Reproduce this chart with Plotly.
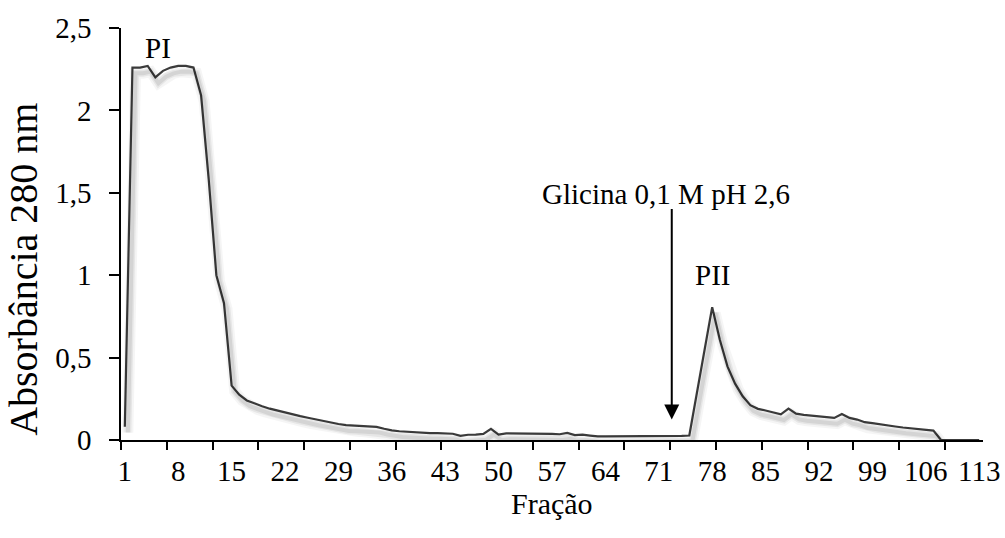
import plotly.graph_objects as go

# ---- data ----
fractions = list(range(1, 114))
absorbance = [
    0.08, 2.26, 2.26, 2.27, 2.20, 2.24, 2.26, 2.27, 2.27, 2.26,   # 1-10
    2.09, 1.58, 1.00, 0.83, 0.33, 0.275, 0.24, 0.22, 0.205, 0.19,  # 11-20
    0.178, 0.168, 0.155, 0.145, 0.135, 0.125, 0.115, 0.108, 0.097, 0.09,  # 21-30
    0.088, 0.085, 0.083, 0.08, 0.068, 0.058, 0.053, 0.05, 0.046, 0.043,  # 31-40
    0.042, 0.042, 0.04, 0.038, 0.025, 0.032, 0.033, 0.037, 0.068, 0.033,  # 41-50
    0.04, 0.04, 0.039, 0.039, 0.038, 0.038, 0.037, 0.035, 0.043, 0.03,  # 51-60
    0.033, 0.027, 0.022, 0.022, 0.022, 0.022, 0.022, 0.022, 0.023, 0.023,  # 61-70
    0.023, 0.024, 0.024, 0.025, 0.027, 0.29, 0.56, 0.806, 0.608, 0.447,  # 71-80
    0.342, 0.265, 0.211, 0.189, 0.179, 0.168, 0.156, 0.19, 0.16, 0.152,  # 81-90
    0.148, 0.144, 0.138, 0.134, 0.158, 0.134, 0.124, 0.108, 0.102, 0.094,  # 91-100
    0.088, 0.082, 0.076, 0.072, 0.066, 0.062, 0.057, 0.0, 0.0, 0.0,  # 101-110
    0.0, 0.0, 0.0,  # 111-113
]
x_label_vals = list(range(1, 114, 7))
x_label_text = [str(v) for v in x_label_vals]
x_tick_marks = [0.5 + 6 * k for k in range(19)]
y_tick_vals = [0, 0.5, 1, 1.5, 2, 2.5]
y_tick_text = ["0", "0,5", "1", "1,5", "2", "2,5"]

FONT = "Liberation Serif"
FS = 29

fig = go.Figure()

# soft drop shadow (same data, drawn on slightly shifted hidden axes)
for w, a in [(11, 0.04), (7, 0.06), (4, 0.08)]:
    fig.add_trace(go.Scatter(
        x=fractions, y=absorbance, mode="lines", xaxis="x3", yaxis="y2",
        line=dict(color=f"rgba(0,0,0,{a})", width=w), hoverinfo="skip",
        showlegend=False, cliponaxis=False))

fig.add_trace(go.Scatter(
    x=fractions, y=absorbance, mode="lines",
    line=dict(color="#3c3c3c", width=2.2), showlegend=False, cliponaxis=False))

# invisible trace so the tick-mark axis is drawn
fig.add_trace(go.Scatter(x=[fractions[0]], y=[0], xaxis="x2", mode="markers",
                         marker=dict(opacity=0), showlegend=False, hoverinfo="skip"))

xr = [0.5, 113.5]
fig.update_layout(
    width=1005, height=538,
    margin=dict(l=121, r=22, t=27.5, b=97.5, autoexpand=False),
    paper_bgcolor="white", plot_bgcolor="white",
    font=dict(family=FONT, size=FS, color="black"),
    xaxis=dict(range=xr, tickvals=x_label_vals, ticktext=x_label_text,
               ticks="", showline=True, linecolor="black", linewidth=1.5,
               showgrid=False, zeroline=False, tickfont=dict(size=FS),
               ticklabelstandoff=4, automargin=False),
    xaxis2=dict(range=xr, overlaying="x", tickvals=x_tick_marks,
                ticks="outside", ticklen=9, tickwidth=1.5, tickcolor="black",
                showticklabels=False, showline=False, showgrid=False,
                zeroline=False, side="bottom", automargin=False),
    xaxis3=dict(range=[xr[0] - 0.4, xr[1] - 0.4], overlaying="x",
                visible=False, automargin=False),
    yaxis=dict(range=[0, 2.5], tickvals=y_tick_vals, ticktext=y_tick_text,
               ticks="outside", ticklen=10, tickwidth=1.5, tickcolor="black",
               showline=True, linecolor="black", linewidth=1.5,
               showgrid=False, zeroline=False, tickfont=dict(size=FS),
               ticklabelstandoff=12, automargin=False),
    yaxis2=dict(range=[0.035, 2.535], overlaying="y", visible=False,
                automargin=False),
    annotations=[
        dict(text="Fração", xref="paper", yref="paper", x=0.5, y=-0.153,
             xanchor="center", yanchor="middle", showarrow=False,
             font=dict(size=30)),
        dict(text="Absorbância 280 nm", xref="paper", yref="paper",
             x=-0.1125, y=0.413, xanchor="center", yanchor="middle",
             textangle=-90, showarrow=False, font=dict(size=40)),
        dict(text="PI", x=5.35, y=2.38, xref="x", yref="y", showarrow=False,
             xanchor="center", yanchor="middle", font=dict(size=FS)),
        dict(text="PII", x=78, y=1.0, xref="x", yref="y", showarrow=False,
             xanchor="center", yanchor="middle", font=dict(size=FS)),
        dict(text="Glicina 0,1 M pH 2,6", x=71.9, y=1.49, xref="x", yref="y",
             showarrow=False, xanchor="center", yanchor="middle",
             font=dict(size=FS)),
        dict(text="", x=72.7, y=0.124, xref="x", yref="y", showarrow=True,
             ax=0, ay=-212, arrowhead=2, arrowsize=1.5, arrowwidth=2,
             arrowcolor="black"),
    ],
)

fig.write_html("out.html", config={"displayModeBar": False},
               post_script="document.body.style.margin='0';"
                           "document.body.style.overflow='hidden';")
